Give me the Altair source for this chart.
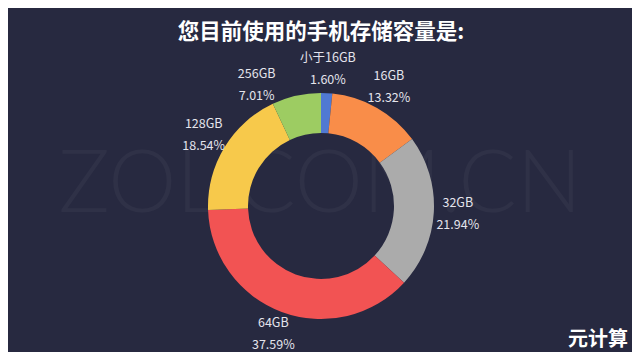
import altair as alt
import pandas as pd

categories = ["小于16GB", "16GB", "32GB", "64GB", "128GB", "256GB"]
shares = [1.60, 13.32, 21.94, 37.59, 18.54, 7.01]
colors = ["#5079d2", "#f98d49", "#ababab", "#f25353", "#f7c94b", "#9dcc62"]
title_text = "您目前使用的手机存储容量是:"
watermark = ["ZOL.COM.CN"]
logo = ["元计算"]

BG = "#272940"

# label angles: middle of each slice, nudged apart where neighbours crowd
total = sum(shares)
mids = []
acc = 0.0
for s in shares:
    mids.append(acc + s / 2)
    acc += s
sep = 8.58
ang = mids[:]
n = len(ang)
for i in range(n - 1, 0, -1):
    nxt = ang[(i + 1) % n] + (total if i == n - 1 else 0)
    if nxt - ang[i] < sep:
        ang[i] = nxt - sep

df = pd.DataFrame({
    "cat": categories,
    "share": shares,
    "idx": list(range(len(categories))),
    "ang": ang,
    "pct": [f"{s:.2f}%" for s in shares],
})

tscale = alt.Scale(domain=[0, total])
color = alt.Color("cat:N", scale=alt.Scale(domain=categories, range=colors), legend=None)

wm = alt.Chart(pd.DataFrame({"t": watermark})).mark_text(
    font="Lato", fontWeight=300, fontSize=86, color="#ffffff", opacity=0.035,
    align="center", baseline="middle"
).encode(text="t:N", x=alt.value(310), y=alt.value(126))

arcs = alt.Chart(df).mark_arc(innerRadius=73, outerRadius=113).encode(
    theta=alt.Theta("share:Q", stack=True, scale=tscale),
    order=alt.Order("idx:Q"), color=color
)

label_style = dict(radius=137, fontSize=12.5, color="#e4e4ec", font="Noto Sans CJK SC",
                   align="center", baseline="middle")
label_theta = alt.Theta("ang:Q", stack=None, scale=tscale)

names = alt.Chart(df).mark_text(dy=-11, **label_style).encode(
    theta=label_theta, text="cat:N")
pcts = alt.Chart(df).mark_text(dy=11, **label_style).encode(
    theta=label_theta, text="pct:N")

logo_t = alt.Chart(pd.DataFrame({"t": logo})).mark_text(
    font="Noto Sans CJK SC", fontWeight="bold", fontSize=20, color="#ffffff",
    align="center", baseline="middle"
).encode(text="t:N", x=alt.value(588), y=alt.value(280))

chart = alt.layer(wm, arcs, names, pcts, logo_t).properties(
    width=622, height=292,
    padding={"left": 2, "top": 52, "right": 0, "bottom": 0},
    autosize=alt.AutoSizeParams(type="none"),
    background=BG,
    title=alt.TitleParams(
        title_text, anchor="middle", fontSize=21.5, fontWeight="bold",
        font="Noto Sans CJK SC", color="#ffffff", offset=9, frame="group"
    ),
).configure_view(stroke=None)

chart.save("out.html", embed_options={"renderer": "svg", "actions": False})
